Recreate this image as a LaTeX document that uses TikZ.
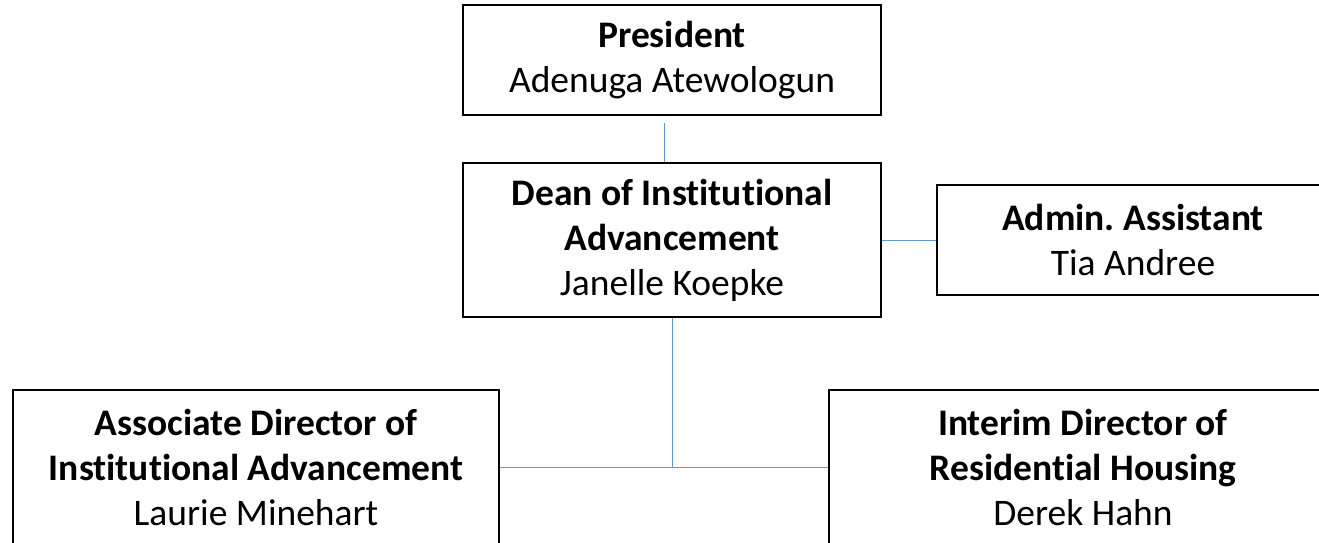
\documentclass[tikz,border=0pt]{standalone}
\usepackage{fontspec}
\setmainfont[Ligatures={NoCommon}]{Carlito}
\frenchspacing
\definecolor{conn}{HTML}{5B9BD5}
\begin{document}
\begin{tikzpicture}[x=1pt,y=-1pt,
  box/.style={draw=black,line width=1.5pt,rectangle,inner sep=0pt,align=center,
    font=\fontsize{37.5}{45}\selectfont},
  link/.style={draw=conn,line width=1pt}]
\useasboundingbox (0,0) rectangle (1319,543);
\node[box,minimum width=418,minimum height=110] (pres) at (672,60) {\textbf{President}\\Adenuga Atewologun};
\node[box,minimum width=418,minimum height=154] (dean) at (672,240) {\textbf{Dean of Institutional}\\\textbf{Advancement}\\Janelle Koepke};
\node[box,minimum width=392,minimum height=110] (admin) at (1133,240) {\textbf{Admin. Assistant}\\Tia Andree};
\node[box,minimum width=486,minimum height=154] (assoc) at (256,467) {\textbf{Associate Director of}\\\textbf{Institutional Advancement}\\Laurie Minehart};
\node[box,minimum width=508,minimum height=154] (interim) at (1083,467) {\textbf{Interim Director of}\\\textbf{Residential Housing}\\Derek Hahn};
\coordinate (junc) at (672,467);
\draw[link] ([xshift=-8pt,yshift=-7pt]pres.south) -- ([xshift=-8pt]dean.north);
\draw[link] (dean.east) -- (admin.west);
\draw[link] (dean.south) -- (junc);
\draw[link] (assoc.east) -- (interim.west);
\end{tikzpicture}
\end{document}
